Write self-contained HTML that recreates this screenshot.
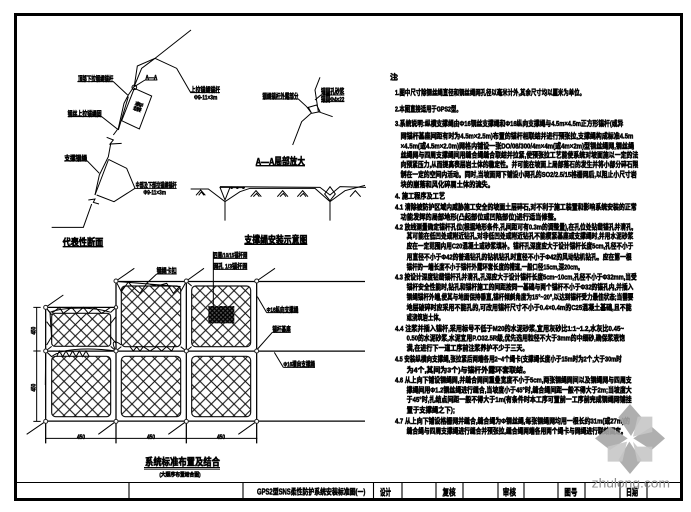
<!DOCTYPE html>
<html><head><meta charset="utf-8"><style>
html,body{margin:0;padding:0;background:#fff}
svg{display:block}
text{font-family:"Liberation Sans","Noto Sans CJK SC",sans-serif;font-weight:bold;fill:#000}
.b text{font-size:22px;stroke:#000;stroke-width:1.7}
.l text{font-size:20px;stroke:#000;stroke-width:1.6}
.t text{font-size:27px;stroke:#000;stroke-width:1.8}
.g{fill:none;stroke:#000;stroke-width:3}
.n{fill:#fff;stroke:#222;stroke-width:3}
</style></head><body>
<svg width="691" height="512" viewBox="0 0 691 512" xmlns="http://www.w3.org/2000/svg">
<defs>
<pattern id="m" width="34" height="34" patternUnits="userSpaceOnUse" patternTransform="translate(5 3)"><path d="M0,0L34,34M34,0L0,34" stroke="#111" stroke-width="3.2" fill="none"/></pattern>
<pattern id="d" width="13" height="13" patternUnits="userSpaceOnUse"><rect width="13" height="13" fill="#555"/><path d="M0,0L13,13M13,0L0,13" stroke="#000" stroke-width="4" fill="none"/></pattern>
</defs>

<!-- frame -->
<rect x="15.5" y="14.5" width="666" height="485" fill="none" stroke="#000" stroke-width="3"/>
<path d="M15,482.5H681M129,482V499M243,482V499M373.500,482V499M402,482V499M436,482V499M463,482V499M498,482V499M524,482V499M558,482V499M585,482V499M620,482V499M647,482V499" stroke="#000" stroke-width="1.100" fill="none"/>

<!-- upper-left diagrams in 3x coordinates -->
<g transform="scale(.33333)">
<g class="g">
<path d="M155,682H250L275,612M265,600L285,597L280,607L297,612M285,585L298,525L325,470L332,432M320,412L340,420L330,432L365,430M340,405L355,385L372,310L385,285L403,258L412,198L465,175L573,90"/>
<path d="M285,585L325,480M355,390L385,290M403,258L425,205L465,175"/>
<path d="M403,265L455,288L418,387L365,362Z"/>
<path d="M465,175L530,205L572,278H660"/>
<path d="M325,478L380,505L405,565L342,605L290,585M405,565H530"/>
<path d="M232,245H340L383,285M435,240L403,260M435,240H472M203,350H305L352,387M193,483H262L298,520"/>
<circle cx="403" cy="262" r="7"/>
<!-- A-A -->
<path d="M878,435L905,365L933,340M960,232L945,270L955,335L998,350M935,340L920,320L895,297H787M925,322L950,315L960,335L935,340ZM945,300L963,285H1033M963,305H1033"/>
<!-- support rope -->
<path d="M572,567H625L675,605L720,575L750,565H945L990,605L1035,572L1095,556"/>
<path d="M660,560L960,562L990,585L1020,560L1098,562M675,605V662M990,605V662M660,562H690L675,600ZM990,560L1006,582L990,602L974,582Z"/>
<path d="M692,563H735M588,586L602,570L616,586M596,586L604,576L612,586M752,590L768,572L784,590M760,590L770,580L778,590M832,590L848,572L864,590M840,590L850,580L858,590M892,590L908,572L924,590M900,590L910,580L918,590M1050,590L1066,572L1082,590"/>
</g>
<g fill="#000"><circle cx="695" cy="563" r="4"/><circle cx="712" cy="563" r="4"/><circle cx="730" cy="563" r="4"/></g>
<path d="M188,740H310M767,497H915M733,733H922" stroke="#000" stroke-width="4"/>
<g class="l">
<text x="234" y="243" textLength="106" lengthAdjust="spacingAndGlyphs">顶部下拉钢绳锚杆</text>
<text x="436" y="238" textLength="36" lengthAdjust="spacingAndGlyphs">A—A</text>
<text x="203" y="348" textLength="102" lengthAdjust="spacingAndGlyphs">钢丝上拉锚绳固</text>
<text x="193" y="481" textLength="68" lengthAdjust="spacingAndGlyphs">支撑钢绳</text>
<text x="572" y="276" textLength="88" lengthAdjust="spacingAndGlyphs">上拉锚绳锚杆</text>
<text x="582" y="299" textLength="70" lengthAdjust="spacingAndGlyphs">Φ9-11×3m</text>
<text x="407" y="563" textLength="123" lengthAdjust="spacingAndGlyphs">中部及下部拉锚绳锚杆</text>
<text x="430" y="584" textLength="68" lengthAdjust="spacingAndGlyphs">Φ9-11×3m</text>
<text x="787" y="295" textLength="108" lengthAdjust="spacingAndGlyphs">钢绳锚杆外露部分</text>
<text x="963" y="281" textLength="70" lengthAdjust="spacingAndGlyphs">锚固孔砂浆</text>
<text x="963" y="304" textLength="70" lengthAdjust="spacingAndGlyphs">锚固Φ4×22</text>
<text transform="translate(418,338) rotate(-68)" textLength="30" lengthAdjust="spacingAndGlyphs" style="font-size:26px">锚墩</text>
</g>
<g class="t">
<text x="188" y="738" textLength="122" lengthAdjust="spacingAndGlyphs" style="font-size:30px">代表性断面</text>
<text x="767" y="495" textLength="148" lengthAdjust="spacingAndGlyphs" style="font-size:30px">A—A局部放大</text>
<text x="733" y="730" textLength="189" lengthAdjust="spacingAndGlyphs" style="font-size:30px">支撑绳安装示意图</text>
</g>
</g>

<!-- grid in 3x coordinates -->
<g transform="translate(0 250) scale(.33333)">
<g fill="url(#m)" stroke="#111" stroke-width="3.500">
<rect x="155" y="190" width="177" height="99" rx="10"/>
<rect x="364" y="108" width="178" height="182" rx="12"/>
<rect x="575" y="108" width="177" height="182" rx="12"/>
<rect x="155" y="319" width="177" height="181" rx="12"/>
<rect x="364" y="319" width="178" height="181" rx="12"/>
<rect x="575" y="319" width="177" height="181" rx="12"/>
</g>
<rect x="625" y="168" width="78" height="52" fill="url(#d)"/>
<g class="g" stroke-width="3.400">
<path d="M348,94.500H1095M137,172H348M137,303.500H1095M137,513.500H1095" style="stroke-width:3.800"/>
<path d="M137,172V580M348,94V580M559,94V580M770,94V580" style="stroke-width:3.800"/>
<path d="M348,93L403,55M559,93L612,55M770,93L825,55M137,172L190,135M137,514L80,553M348,514L295,553M559,514L505,553M770,514L715,553"/>
<path d="M135,565H772M110,172V514M100,172H122M100,303H122M100,514H122"/>
<path d="M137,172L155,195M137,172L150,187C190,170 280,170 332,187M150,187L155,270M332,187L348,172M332,289L348,303M155,289L137,303"/>
<path d="M155,190L178,172L190,190L215,172L230,190L250,172L265,190L285,172L305,190L332,172"/>
<path d="M155,235L140,215M155,260L140,285M332,220L348,200M332,260L348,280"/>
<path d="M137,303L155,320C190,290 290,295 348,303M170,320L178,303L188,320L198,303L208,320L218,303L228,320L238,303L248,320L258,303L268,320"/>
<path d="M137,310L136,405M348,303C330,270 345,270 364,285"/>
<path d="M348,94L364,125L385,96L395,108L420,130L440,100L470,108L500,100L520,130L540,108M348,94L542,110M559,94L542,125M364,290L348,303M542,290L559,303M575,108L559,94M575,290L559,303"/>
<path d="M390,290L400,303L410,290L420,303L430,290L450,303L470,290L485,303L500,290L515,303L525,285"/>
<path d="M470,72H530M470,72L440,100M640,25H742M640,58H742M640,5V170M800,188H895M800,188L772,140M817,247H872M817,247L770,300M850,352H945M850,352L823,307"/>
</g>
<g class="n">
<circle cx="137" cy="172" r="6"/><circle cx="137" cy="303" r="6"/><circle cx="137" cy="514" r="6"/>
<circle cx="348" cy="93" r="6"/><circle cx="348" cy="172" r="5"/><circle cx="348" cy="303" r="6"/><circle cx="348" cy="514" r="6"/>
<circle cx="559" cy="93" r="6"/><circle cx="559" cy="303" r="6"/><circle cx="559" cy="514" r="6"/>
<circle cx="770" cy="93" r="6"/><circle cx="770" cy="303" r="6"/><circle cx="770" cy="514" r="6"/>
</g>
<g class="l">
<text x="470" y="69" textLength="60" lengthAdjust="spacingAndGlyphs">钢绳卡扣</text>
<text x="640" y="22" textLength="102" lengthAdjust="spacingAndGlyphs">四周/10/15锚杆网</text>
<text x="640" y="55" textLength="102" lengthAdjust="spacingAndGlyphs">网孔 1/3锚杆网</text>
<text x="800" y="186" textLength="95" lengthAdjust="spacingAndGlyphs">Φ16纵向支撑绳</text>
<text x="817" y="245" textLength="55" lengthAdjust="spacingAndGlyphs">锚杆基座</text>
<text x="850" y="350" textLength="95" lengthAdjust="spacingAndGlyphs">Φ16横向支撑绳</text>
<text x="231" y="567" textLength="24" lengthAdjust="spacingAndGlyphs">450</text>
<text x="441" y="567" textLength="24" lengthAdjust="spacingAndGlyphs">450</text>
<text x="651" y="567" textLength="24" lengthAdjust="spacingAndGlyphs">450</text>
<text transform="translate(107,254) rotate(-90)" textLength="24" lengthAdjust="spacingAndGlyphs">450</text>
<text transform="translate(107,425) rotate(-90)" textLength="24" lengthAdjust="spacingAndGlyphs">450</text>
</g>
<path d="M432,653H660" stroke="#000" stroke-width="4"/><path d="M432,658H660" stroke="#000" stroke-width="2"/>
<g class="t"><text x="435" y="646" textLength="225" lengthAdjust="spacingAndGlyphs" style="font-size:30px">系统标准布置及结合</text></g>
<g class="l"><text x="478" y="680" textLength="124" lengthAdjust="spacingAndGlyphs" style="font-size:17px">(大顺序布置结合图)</text></g>
</g>

<!-- notes in 3x coordinates -->
<g class="b" transform="translate(370 60) scale(.33333)">
<text x="60" y="58" textLength="25">注:</text>
<text x="75" y="105" textLength="570" lengthAdjust="spacingAndGlyphs">1.图中尺寸除钢丝绳直径和钢丝绳网孔径以毫米计外,其余尺寸均以厘米为单位。</text>
<text x="75" y="155" textLength="200" lengthAdjust="spacingAndGlyphs">2.本图直接适用于GPS2型。</text>
<text x="75" y="198" textLength="685" lengthAdjust="spacingAndGlyphs">3.系统说明:纵横支撑绳由Φ16钢丝支撑绳和Φ16纵向支撑绳与4.5m×4.5m正方形锚杆(或异</text>
<text x="92" y="236" textLength="698" lengthAdjust="spacingAndGlyphs">网锚杆基座间距有时为4.5m×2.5m)布置的锚杆相联结并进行预张拉,支撑绳构成标准4.5m</text>
<text x="92" y="265" textLength="700" lengthAdjust="spacingAndGlyphs">×4.5m(或4.5m×2.0m)网格内铺设一张DO/08/300/4m×4m(或4m×2m)型钢丝绳网,钢丝绳</text>
<text x="92" y="293" textLength="713" lengthAdjust="spacingAndGlyphs">丝绳网与四周支撑绳间用缝合绳缝合联结并拉紧,使预张拉工艺能使系统对坡面施以一定的法</text>
<text x="92" y="321" textLength="713" lengthAdjust="spacingAndGlyphs">向预紧压力,从而提高表层岩土体的稳定性。并可能在坡面上局部落石的发生并将小部分碎石限</text>
<text x="92" y="351" textLength="708" lengthAdjust="spacingAndGlyphs">制在一定的空间内活动。同时,当坡面网下铺设小网孔的SO2/2.5/15格栅网后,以阻止小尺寸岩</text>
<text x="92" y="381" textLength="280" lengthAdjust="spacingAndGlyphs">块的崩落和风化碎屑土体的流失。</text>
<text x="75" y="416" textLength="150" lengthAdjust="spacingAndGlyphs">4. 施工程序及工艺</text>
<text x="75" y="449" textLength="725" lengthAdjust="spacingAndGlyphs">4.1 清除被防护区域内威胁施工安全的坡面土层碎石,对不利于施工装置和影响系统安装的正常</text>
<text x="92" y="478" textLength="478" lengthAdjust="spacingAndGlyphs">功能发挥的局部地形(凸起部位或凹陷部位)进行适当修整。</text>
<text x="75" y="508" textLength="715" lengthAdjust="spacingAndGlyphs">4.2 放线测量确定锚杆孔位(根据地形条件,孔间距可有0.3m的调整量),在孔位处钻凿锚孔并清孔,</text>
<text x="110" y="536" textLength="680" lengthAdjust="spacingAndGlyphs">其可能在低凹处或附近钻孔,对非低凹处或附近钻孔不能楔紧基座或支撑绳时,并用水泥砂浆</text>
<text x="110" y="565" textLength="680" lengthAdjust="spacingAndGlyphs">应在一定范围内用C20混凝土或砂浆填补。锚杆孔深度应大于设计锚杆长度5cm,孔径不小于</text>
<text x="110" y="598" textLength="675" lengthAdjust="spacingAndGlyphs">用直径不小于Φ42的普通钻孔的钻机钻孔时直径不小于Φ42的风动钻机钻孔。应在第一根</text>
<text x="110" y="628" textLength="530" lengthAdjust="spacingAndGlyphs">锚杆的一端长度不小于锚杆外露环套长度的槽道,一般口径15cm,深20cm。</text>
<text x="75" y="658" textLength="725" lengthAdjust="spacingAndGlyphs">4.3 按设计深度钻凿锚杆孔并清孔,孔深应大于设计锚杆长度5cm~10cm,孔径不小于Φ32mm,当受</text>
<text x="110" y="688" textLength="680" lengthAdjust="spacingAndGlyphs">锚杆安全性能时,钻孔和锚杆施工的间距按同一基础与两个锚杆不小于Φ32的锚孔内,并插入</text>
<text x="110" y="718" textLength="680" lengthAdjust="spacingAndGlyphs">钢绳锚杆外端,使其与地面保持垂直,锚杆倾斜角度为15°~20°,以达到锚杆受力最佳状态;当需要</text>
<text x="110" y="750" textLength="675" lengthAdjust="spacingAndGlyphs">地层破碎时应采用不能孔的,可改用锚杆尺寸不小于0.4×0.4m的C25混凝土基础,且不能</text>
<text x="110" y="780" textLength="112" lengthAdjust="spacingAndGlyphs">或浇筑岩土体。</text>
<text x="75" y="813" textLength="687" lengthAdjust="spacingAndGlyphs">4.4 注浆并插入锚杆,采用标号不低于M20的水泥砂浆,宜用灰砂比1:1~1.2,水灰比0.45~</text>
<text x="110" y="841" textLength="655" lengthAdjust="spacingAndGlyphs">0.50的水泥砂浆,水泥宜用P.O32.5R级,优先选用粒径不大于3mm的中细砂,确保浆液饱</text>
<text x="110" y="871" textLength="365" lengthAdjust="spacingAndGlyphs">满,在进行下一道工序前注浆养护不少于三天。</text>
<text x="75" y="905" textLength="680" lengthAdjust="spacingAndGlyphs">4.5 安装纵横向支撑绳,张拉紧后两端各用2~4个绳卡(支撑绳长度小于15m时为2个,大于30m时</text>
<text x="110" y="938" textLength="370" lengthAdjust="spacingAndGlyphs">为4个,其间为3个)与锚杆外露环套联结。</text>
<text x="75" y="968" textLength="710" lengthAdjust="spacingAndGlyphs">4.6 从上向下铺设钢绳网,并缝合网间重叠宽度不小于5cm,两张钢绳网间以及钢绳网与四周支</text>
<text x="110" y="998" textLength="675" lengthAdjust="spacingAndGlyphs">撑绳间用Φ1.2钢丝绳进行缝合,当坡度小于45°时,缝合绳间距一般不得大于2m;当坡度大</text>
<text x="110" y="1026" textLength="675" lengthAdjust="spacingAndGlyphs">于45°时,扎结点间距一般不得大于1m(有条件时本工序可置前一工序前完成钢绳网铺挂</text>
<text x="110" y="1058" textLength="145" lengthAdjust="spacingAndGlyphs">置于支撑绳之下);</text>
<text x="75" y="1091" textLength="705" lengthAdjust="spacingAndGlyphs">4.7 从上向下铺设格栅网并缝合,缝合绳为Φ钢丝绳,每张钢绳网均用一根长约31m(或27m)的</text>
<text x="110" y="1121" textLength="660" lengthAdjust="spacingAndGlyphs">缝合绳与四周支撑绳进行缝合并预张拉,缝合绳两端各用两个绳卡与网绳进行联结固定。</text>
</g>

<!-- title block text -->
<g class="l" transform="scale(.33333)">
<text x="771" y="1484" textLength="325" lengthAdjust="spacingAndGlyphs" style="font-size:24px">GPS2型SNS柔性防护系统安装标准图(一)</text>
</g>
<g class="l" transform="translate(370 260) scale(.33333)">
<text x="30" y="706" textLength="33" lengthAdjust="spacingAndGlyphs" style="font-size:28px">设计</text>
<text x="217" y="706" textLength="40" lengthAdjust="spacingAndGlyphs" style="font-size:28px">复核</text>
<text x="398" y="706" textLength="40" lengthAdjust="spacingAndGlyphs" style="font-size:28px">审核</text>
<text x="583" y="706" textLength="39" lengthAdjust="spacingAndGlyphs" style="font-size:28px">图号</text>
<text x="768" y="706" textLength="36" lengthAdjust="spacingAndGlyphs" style="font-size:28px">日期</text>
</g>

<!-- watermark -->
<g transform="translate(560 400) scale(.33333)">
<g fill="#a6a6a6" fill-opacity=".9">
<path d="M210,12L245,52L213,108L175,52Z"/>
<path d="M210,222L175,180L208,125L245,180Z"/>
<path d="M105,115L150,80L203,115L150,150Z"/>
<path d="M315,115L275,80L220,115L275,150Z"/>
</g>
<g fill="#c6c6c6" fill-opacity=".9">
<path d="M233,50H277V96L219,110Z"/>
<path d="M143,140L201,125L187,185H143Z"/>
<path d="M232,140H277V185H232L219,125Z"/>
</g>
<text x="95" y="263" textLength="235" lengthAdjust="spacingAndGlyphs" style="font-size:40px;font-weight:normal;fill:#8e8e8e">zhulong.com</text>
</g>
</svg>
</body></html>
